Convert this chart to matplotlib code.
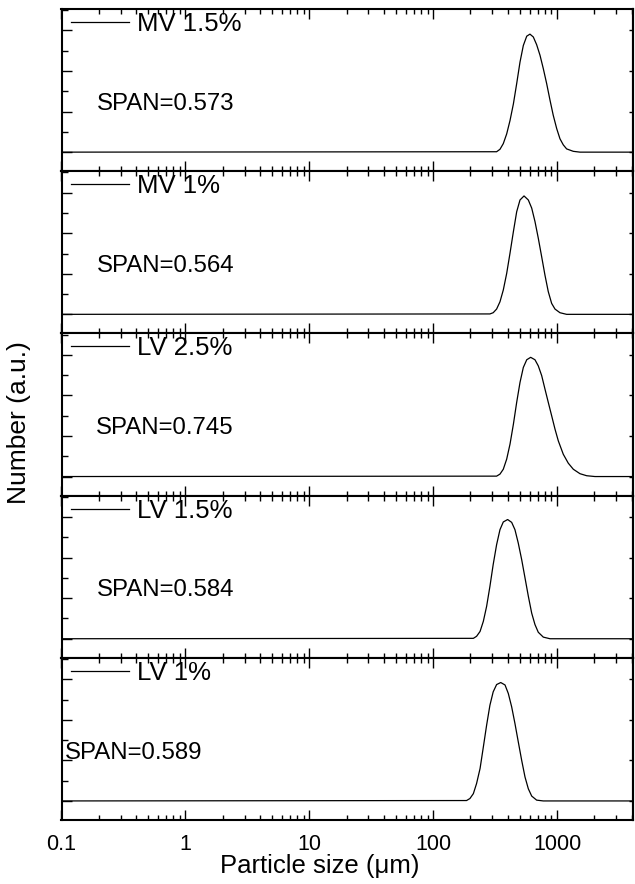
import matplotlib
matplotlib.use("Agg")
import matplotlib.pyplot as plt
from matplotlib.ticker import LogLocator, FixedLocator, NullFormatter

plt.rcParams['font.family'] = ['Liberation Sans', 'DejaVu Sans']

# ---------------- data ----------------
labels = ["MV 1.5%", "MV 1%", "LV 2.5%", "LV 1.5%", "LV 1%"]
spans = ["SPAN=0.573", "SPAN=0.564", "SPAN=0.745", "SPAN=0.584", "SPAN=0.589"]

size_mv15 = [0.1, 325, 346, 368, 392, 417, 444, 472, 502, 534, 569, 604, 643, 684, 728,
             774, 824, 877, 931, 993, 1055, 1122, 1194, 1352, 1531, 5000]
num_mv15 = [0, 0.01, 0.07, 0.21, 0.45, 0.78, 1.19, 1.69, 2.22, 2.63, 2.86, 2.91, 2.84, 2.65, 2.39,
            2.06, 1.69, 1.28, 0.91, 0.58, 0.33, 0.18, 0.08, 0.02, 0, 0]

size_mv1 = [0.1, 287, 305, 325, 346, 368, 392, 417, 444, 472, 502, 541, 586, 624, 663,
            705, 751, 798, 849, 904, 962, 1055, 1194, 5000]
num_mv1 = [0, 0.01, 0.04, 0.13, 0.31, 0.60, 1.01, 1.51, 2.04, 2.53, 2.82, 2.92, 2.82, 2.62, 2.29,
           1.88, 1.42, 0.97, 0.56, 0.27, 0.13, 0.04, 0, 0]

size_lv25 = [0.1, 325, 346, 368, 392, 417, 444, 472, 502, 534, 569, 612, 663, 705, 751,
             798, 849, 904, 962, 1023, 1122, 1231, 1352, 1531, 1733, 2023, 5000]
num_lv25 = [0, 0.01, 0.06, 0.18, 0.43, 0.80, 1.29, 1.83, 2.32, 2.69, 2.88, 2.94, 2.88, 2.73, 2.49,
            2.16, 1.83, 1.50, 1.17, 0.88, 0.55, 0.33, 0.18, 0.07, 0.02, 0, 0]

size_lv15 = [0.1, 211, 224, 239, 254, 270, 287, 305, 325, 346, 368, 399, 430, 457, 486,
             518, 551, 586, 624, 663, 705, 774, 877, 5000]
num_lv15 = [0, 0.01, 0.06, 0.18, 0.43, 0.80, 1.29, 1.83, 2.32, 2.69, 2.88, 2.94, 2.87, 2.69, 2.36,
            1.95, 1.50, 1.05, 0.63, 0.35, 0.16, 0.04, 0, 0]

size_lv1 = [0.1, 186, 198, 211, 224, 239, 254, 270, 287, 305, 325, 351, 380, 404, 430,
            457, 486, 518, 551, 586, 624, 684, 774, 5000]
num_lv1 = [0, 0.01, 0.06, 0.18, 0.43, 0.80, 1.33, 1.87, 2.36, 2.69, 2.87, 2.92, 2.86, 2.65, 2.32,
           1.91, 1.46, 1.00, 0.59, 0.30, 0.12, 0.02, 0, 0]

sizes = [size_mv15, size_mv1, size_lv25, size_lv15, size_lv1]
nums = [num_mv15, num_mv1, num_lv25, num_lv15, num_lv1]
xticks = [0.1, 1, 10, 100, 1000]
xticklabels = ["0.1", "1", "10", "100", "1000"]

# ---------------- layout ----------------
W, H = 635, 884
fig = plt.figure(figsize=(W / 100, H / 100), dpi=100)
left_px, right_px = 61.5, 633
top_px, bottom_px = 9, 820
n = 5
ph = (bottom_px - top_px) / n

span_x = [0.062, 0.062, 0.060, 0.062, 0.006]

for i in range(n):
    y0 = H - (top_px + (i + 1) * ph)
    ax = fig.add_axes([left_px / W, y0 / H, (right_px - left_px) / W, ph / H])
    ax.plot(sizes[i], nums[i], color='black', lw=0.9, label=labels[i])
    ax.set_xscale('log')
    ax.set_xlim(0.1, 4100)
    ax.set_ylim(-0.47, 3.53)
    for s in ax.spines.values():
        s.set_linewidth(1.5)

    # x ticks
    ax.xaxis.set_major_locator(FixedLocator(xticks))
    ax.xaxis.set_minor_locator(LogLocator(base=10, subs=range(2, 10), numticks=20))
    ax.xaxis.set_minor_formatter(NullFormatter())
    ax.tick_params(axis='x', which='major', direction='in', top=True, bottom=True,
                   length=7.5, width=1.0)
    ax.tick_params(axis='x', which='minor', direction='in', top=True, bottom=True,
                   length=3.4, width=1.0)
    if i == n - 1:
        ax.set_xticklabels(xticklabels)
        ax.tick_params(axis='x', which='major', labelsize=15.5, pad=10)
        ax.set_xlabel("Particle size (μm)", fontsize=18.5)
        ax.xaxis.set_label_coords(0.452, -0.21)
    else:
        ax.tick_params(axis='x', labelbottom=False)

    # y ticks: left major+minor, right short majors
    ax.yaxis.set_major_locator(FixedLocator([0, 1, 2, 3]))
    ax.yaxis.set_minor_locator(FixedLocator([0.5, 1.5, 2.5, 3.5]))
    ax.tick_params(axis='y', which='major', direction='in', left=True, right=False,
                   length=7.5, width=1.0, labelleft=False)
    ax.tick_params(axis='y', which='minor', direction='in', left=True, right=False,
                   length=4, width=1.0)
    sec = ax.secondary_yaxis('right')
    sec.set_yticks([0, 1, 2, 3])
    sec.tick_params(direction='in', length=3, width=1.0, labelright=False)
    sec.spines['right'].set_linewidth(1.5)

    leg = ax.legend(loc='upper left', bbox_to_anchor=(0.012, 1.0), borderaxespad=0,
                    borderpad=0.12, frameon=False, fontsize=18.5, handlelength=2.25,
                    handletextpad=0.3)
    for ln in leg.get_lines():
        ln.set_linewidth(0.9)

    ax.text(span_x[i], 0.415, spans[i], transform=ax.transAxes, fontsize=17.3,
            va='center', ha='left')

fig.text(19 / W, 1 - ((top_px + bottom_px) / 2 + 8) / H, "Number (a.u.)", rotation=90,
         fontsize=19, va='center', ha='center')

fig.savefig("out.png", dpi=100)
